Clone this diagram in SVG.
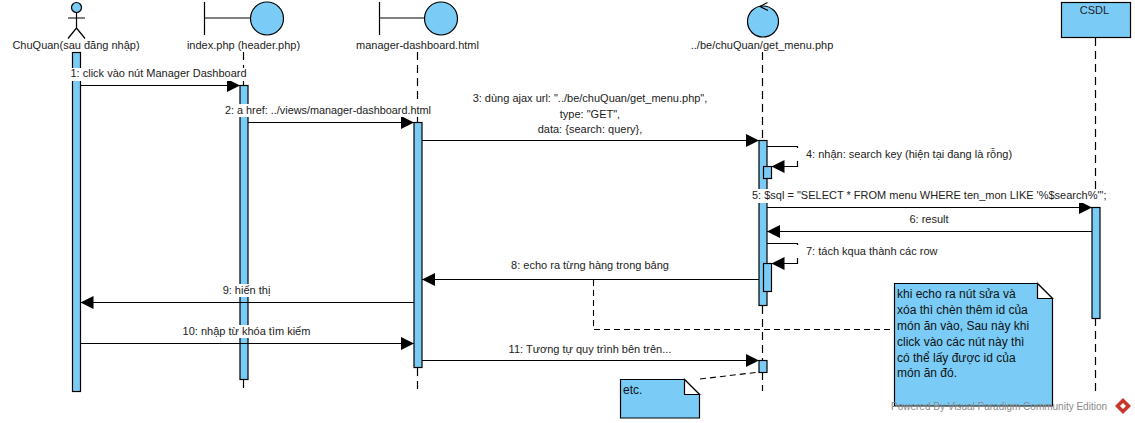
<svg xmlns="http://www.w3.org/2000/svg" width="1135" height="423" viewBox="0 0 1135 423">
<style>
text{font-family:"Liberation Sans",Arial,sans-serif;font-size:11px;fill:#222}
.m{text-anchor:middle}
.n{font-size:12px;fill:#111}
.s{fill:#7accf6;stroke:#000;stroke-width:1.2}
.l{fill:none;stroke:#000;stroke-width:1.2}
.d{fill:none;stroke:#000;stroke-width:1.2;stroke-dasharray:8 5}
.e{fill:none;stroke:#000;stroke-width:1.1;stroke-dasharray:6 4}
.w{fill:#fff;stroke:none}
.a{fill:#000;stroke:none}
</style>
<defs>
<marker id="ah" markerUnits="userSpaceOnUse" markerWidth="14" markerHeight="14" refX="13" refY="6.5" orient="auto"><path class="a" d="M0 0L13 6.5L0 13Z"/></marker>
</defs>
<rect width="1135" height="423" fill="#fff"/>
<g id="lifelines">
<path class="d" d="M243.5 52V85M243.5 380V391M417.5 52V122M417.5 368V391M762.5 52V140M762.5 306V360M762.5 372V391M1095.5 38V207M1095.5 318V393"/>
</g>
<g id="node-chuquan">
<circle class="s" cx="76.5" cy="7.5" r="5"/>
<path class="l" d="M76.5 12.5V28M68 18H85M76.5 28L68 38.500M76.5 28L85 38.500"/>
<text class="m" x="76" y="49">ChuQuan(sau đăng nhập)</text>
<rect class="s" x="72.500" y="52.500" width="8" height="339"/>
</g>
<g id="node-index">
<path class="l" d="M204.500 2V35M204.500 18H250"/>
<circle class="s" cx="267" cy="18.500" r="16.500"/>
<text class="m" x="243.500" y="49">index.php (header.php)</text>
<rect class="s" x="240" y="85.500" width="8" height="294"/>
</g>
<g id="node-manager">
<path class="l" d="M379.500 2V35M379.500 18H424"/>
<circle class="s" cx="441" cy="18.500" r="16.500"/>
<text class="m" x="417.500" y="49">manager-dashboard.html</text>
<rect class="s" x="414" y="122.500" width="8" height="245"/>
</g>
<g id="node-getmenu">
<circle class="s" cx="763" cy="21.500" r="15.500"/>
<path class="l" d="M767.500 2.500L760 6.500L768 10.500"/>
<text class="m" x="762" y="49">../be/chuQuan/get_menu.php</text>
<rect class="s" x="759" y="140.500" width="8" height="165"/>
<rect class="s" x="763.500" y="166.500" width="8" height="12"/>
<rect class="s" x="763.500" y="263.500" width="8" height="28"/>
<rect class="s" x="759" y="360.500" width="8" height="12"/>
</g>
<g id="node-csdl">
<rect class="s" x="1061.500" y="2.500" width="69" height="35"/>
<text class="m" x="1094.500" y="14">CSDL</text>
<rect class="s" x="1092" y="207.500" width="8" height="111"/>
</g>
<g id="connectors">
<path class="l" marker-end="url(#ah)" d="M80.500 85.500H240"/>
<path class="l" marker-end="url(#ah)" d="M248 122.500H414"/>
<path class="l" marker-end="url(#ah)" d="M422 140.500H759"/>
<path class="l" marker-end="url(#ah)" d="M767 146.500H797.500V166.500H771.500"/>
<path class="l" marker-end="url(#ah)" d="M767 207.500H1092"/>
<path class="l" marker-end="url(#ah)" d="M1092 231.500H767"/>
<path class="l" marker-end="url(#ah)" d="M767 243.500H797.500V263.500H771.500"/>
<path class="l" marker-end="url(#ah)" d="M759 279.500H422"/>
<path class="l" marker-end="url(#ah)" d="M414 302.500H80.500"/>
<path class="l" marker-end="url(#ah)" d="M80.500 343.500H414"/>
<path class="l" marker-end="url(#ah)" d="M422 360.500H759"/>
<path class="e" d="M593.500 280V329.500H894"/>
<path class="e" d="M700 379L760 372"/>
</g>
<g id="labels">
<rect class="w" x="70" y="68" width="177" height="13"/><text x="70.500" y="77">1: click vào nút Manager Dashboard</text>
<rect class="w" x="225" y="104" width="207" height="13"/><text x="225" y="114" textLength="206" lengthAdjust="spacingAndGlyphs">2: a href: ../views/manager-dashboard.html</text>
<text class="m" x="590" y="102">3: dùng ajax url: "../be/chuQuan/get_menu.php",</text>
<text class="m" x="590" y="118">type: "GET",</text>
<text class="m" x="590" y="133">data: {search: query},</text>
<rect class="w" x="790" y="148" width="230" height="13"/><text x="806" y="158">4: nhận: search key (hiện tại đang là rỗng)</text>
<rect class="w" x="752" y="189" width="356" height="14"/><text x="752" y="199">5: $sql = "SELECT * FROM menu WHERE ten_mon LIKE '%$search%'";</text>
<text class="m" x="929" y="223">6: result</text>
<rect class="w" x="790" y="245" width="150" height="13"/><text x="806" y="255">7: tách kqua thành các row</text>
<text class="m" x="590" y="269">8: echo ra từng hàng trong bảng</text>
<rect class="w" x="222" y="284" width="50" height="13"/><text class="m" x="246.500" y="294">9: hiển thị</text>
<rect class="w" x="182" y="325" width="129" height="13"/><text class="m" x="246.500" y="335">10: nhập từ khóa tìm kiếm</text>
<text class="m" x="590" y="353">11: Tương tự quy trình bên trên...</text>
</g>
<g id="note-id">
<path class="s" d="M894.500 283.500H1037.500L1052.500 298.500V406H894.500Z"/>
<path d="M1037.500 283.500V298.500H1052.500Z" fill="#fff" stroke="#000" stroke-width="1.200"/>
<text class="n" x="897" y="298">khi echo ra nút sửa và</text>
<text class="n" x="897" y="314">xóa thì chèn thêm id của</text>
<text class="n" x="897" y="330">món ăn vào, Sau này khi</text>
<text class="n" x="897" y="346">click vào các nút này thì</text>
<text class="n" x="897" y="362">có thể lấy được id của</text>
<text class="n" x="897" y="377">món ăn đó.</text>
</g>
<g id="note-etc">
<path class="s" d="M620.500 379.500H684.500L699.500 394.500V418H620.500Z"/>
<path d="M684.500 379.500V394.500H699.500Z" fill="#fff" stroke="#000" stroke-width="1.200"/>
<text class="n" x="623" y="394">etc.</text>
</g>
<g id="watermark">
<text x="891" y="410" style="font-size:10px;fill:#8a8a8a">Powered By  Visual Paradigm Community Edition</text>
<path d="M1123 398L1131 406L1123 414L1115 406Z" fill="#c9372c"/>
<path d="M1123 403L1126 406L1123 409L1120 406Z" fill="#fff"/>
</g>
</svg>
